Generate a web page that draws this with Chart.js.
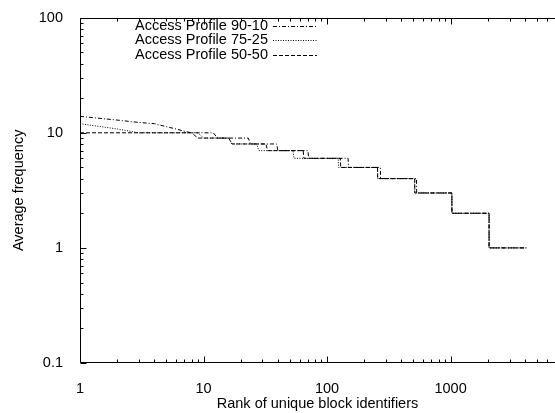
<!DOCTYPE html>
<html>
<head>
<meta charset="utf-8">
<script src="https://cdn.jsdelivr.net/npm/chart.js@4.4.1/dist/chart.umd.min.js"></script>
<style>
  html, body { margin: 0; padding: 0; background: #fff; }
  #grafico { display: block; }
</style>
</head>
<body>
<canvas id="grafico" width="555" height="413"></canvas>
<script>
// Datos (rango del bloque, frecuencia media)
const rangos9010 = [1, 2, 3, 4, 5, 6, 7, 8, 12, 13, 23, 24, 39, 40, 70, 71, 148, 149, 270, 271, 530, 531, 1024, 1025, 2048, 2049, 4096];
const frecuencia9010 = [13.9, 12.9, 12.3, 12.0, 11.3, 10.8, 10.3, 10, 10, 9, 9, 8, 8, 7, 7, 6, 6, 5, 5, 4, 4, 3, 3, 2, 2, 1, 1];

const rangos7525 = [1, 2, 3, 9, 10, 16, 17, 27, 28, 53, 54, 123, 124, 256, 257, 512, 513, 1024, 1025, 2048, 2049, 4096];
const frecuencia7525 = [12.0, 10.8, 10, 10, 9, 9, 8, 8, 7, 7, 6, 6, 5, 5, 4, 4, 3, 3, 2, 2, 1, 1];

const rangos5050 = [1, 8, 9, 16, 17, 32, 33, 64, 65, 128, 129, 256, 257, 512, 513, 1024, 1025, 2048, 2049, 4096];
const frecuencia5050 = [10, 10, 9, 9, 8, 8, 7, 7, 6, 6, 5, 5, 4, 4, 3, 3, 2, 2, 1, 1];

const nombresSeries = ['Access Profile 90-10', 'Access Profile 75-25', 'Access Profile 50-50'];
const etiquetasX = [1, 10, 100, 1000];
const etiquetasY = [0.1, 1, 10, 100];

const fuente = '"Liberation Sans", Arial, Helvetica, sans-serif';
Chart.defaults.font.family = fuente;

function puntos(rangos, valores) {
    return rangos.map((r, i) => ({ x: r, y: valores[i] }));
}

// Leyenda al estilo gnuplot: texto a la derecha, muestra de linea despues
const leyendaPlugin = {
    id: 'leyendaGnuplot',
    afterDatasetsDraw(chart) {
        const ctx = chart.ctx;
        ctx.save();
        ctx.font = '14.5px ' + fuente;
        ctx.fillStyle = '#000';
        ctx.textAlign = 'right';
        ctx.textBaseline = 'middle';
        chart.data.datasets.forEach((ds, i) => {
            const y = 25.5 + i * 14.5;
            ctx.fillText(ds.label, 268, y);
            ctx.beginPath();
            ctx.setLineDash(ds.borderDash);
            ctx.strokeStyle = '#000';
            ctx.lineWidth = 1;
            ctx.moveTo(273, Math.round(y) + 0.5);
            ctx.lineTo(317, Math.round(y) + 0.5);
            ctx.stroke();
        });
        ctx.restore();
    }
};

// Marco y marcas hacia dentro (como gnuplot)
const marcoPlugin = {
    id: 'marcoGnuplot',
    afterDraw(chart) {
        const ctx = chart.ctx;
        const area = chart.chartArea;
        const sx = chart.scales.x;
        const sy = chart.scales.y;
        const l = Math.round(area.left) + 0.5;
        const t = Math.round(area.top) + 0.5;
        const b = Math.round(area.bottom) - 0.5;
        ctx.save();
        ctx.strokeStyle = '#000';
        ctx.lineWidth = 1;
        ctx.setLineDash([]);
        ctx.beginPath();
        ctx.moveTo(area.right, t);
        ctx.lineTo(l, t);
        ctx.lineTo(l, b);
        ctx.lineTo(area.right, b);
        ctx.stroke();

        ctx.beginPath();
        for (let dec = 1; dec <= 1000; dec *= 10) {
            for (let d = 1; d <= 9; d++) {
                const v = d * dec;
                if (v > sx.max) break;
                const px = Math.round(sx.getPixelForValue(v)) + 0.5;
                const len = d === 1 ? 6 : 3;
                ctx.moveTo(px, b);
                ctx.lineTo(px, b - len);
                ctx.moveTo(px, t);
                ctx.lineTo(px, t + len);
            }
        }
        for (let dec = 0.1; dec <= 100; dec *= 10) {
            for (let d = 1; d <= 9; d++) {
                const v = d * dec;
                if (v > sy.max * 1.0001) break;
                const py = Math.round(sy.getPixelForValue(v)) + 0.5;
                const len = d === 1 ? 6 : 3;
                ctx.moveTo(l, py);
                ctx.lineTo(l + len, py);
            }
        }
        ctx.stroke();
        ctx.restore();
    }
};

const ctx = document.getElementById('grafico').getContext('2d');
const grafico = new Chart(ctx, {
    type: 'line',
    data: {
        datasets: [
            { label: nombresSeries[0], data: puntos(rangos9010, frecuencia9010), borderDash: [4, 2, 1, 2] },
            { label: nombresSeries[1], data: puntos(rangos7525, frecuencia7525), borderDash: [1, 1.5] },
            { label: nombresSeries[2], data: puntos(rangos5050, frecuencia5050), borderDash: [4, 2] }
        ].map(ds => Object.assign(ds, {
            borderColor: '#000',
            borderWidth: 1,
            pointRadius: 0,
            tension: 0,
            fill: false
        }))
    },
    options: {
        responsive: false,
        devicePixelRatio: 1,
        animation: false,
        layout: { padding: { top: 13, right: 0, bottom: 0, left: 0 } },
        plugins: {
            legend: { display: false },
            tooltip: { enabled: false }
        },
        scales: {
            x: {
                type: 'logarithmic',
                min: 1,
                max: 7000,
                afterBuildTicks: s => { s.ticks = etiquetasX.map(v => ({ value: v })); },
                afterFit: s => { s.height = 50; },
                grid: { display: false },
                border: { display: false },
                ticks: {
                    color: '#000',
                    font: { size: 14.5 },
                    padding: 9,
                    maxRotation: 0,
                    autoSkip: false,
                    callback: v => String(v)
                },
                title: {
                    display: true,
                    text: 'Rank of unique block identifiers',
                    color: '#000',
                    font: { size: 14.5 },
                    padding: { top: 0, bottom: 0 }
                }
            },
            y: {
                type: 'logarithmic',
                min: 0.1,
                max: 100,
                afterBuildTicks: s => { s.ticks = etiquetasY.map(v => ({ value: v })); },
                afterFit: s => { s.width = 80; },
                grid: { display: false },
                border: { display: false },
                ticks: {
                    color: '#000',
                    font: { size: 14.5 },
                    padding: 9,
                    autoSkip: false,
                    callback: v => String(v)
                },
                title: {
                    display: true,
                    text: 'Average frequency',
                    color: '#000',
                    font: { size: 14.5 },
                    padding: { top: 10, bottom: 0 }
                }
            }
        }
    },
    plugins: [leyendaPlugin, marcoPlugin]
});
</script>
</body>
</html>
